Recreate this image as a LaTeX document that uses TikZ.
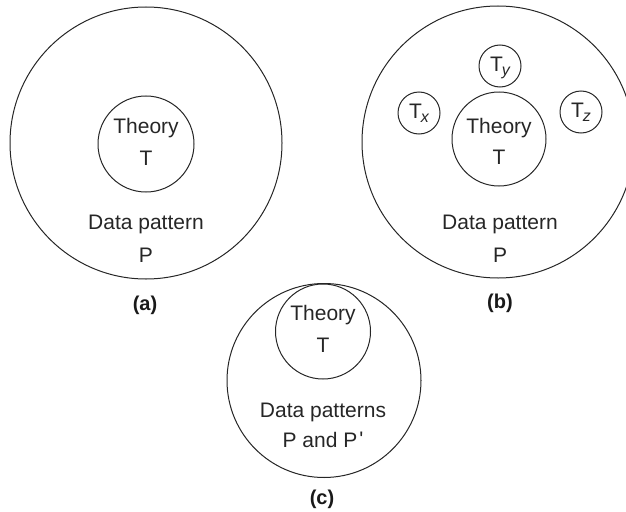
\documentclass[tikz,border=0pt]{standalone}
\usepackage{fontspec}
\setmainfont{Liberation Sans}
\newfontfamily\plainsans{Liberation Sans}
\newcommand{\mysub}[1]{\raisebox{-4pt}{\fontsize{16}{18}\selectfont\itshape #1}}
\begin{document}
\tikzset{
  ring/.style={circle, draw=black!85, line width=1pt, inner sep=0pt},
  lbl/.style={font=\fontsize{21}{25}\selectfont, text=black!85, inner sep=0pt, anchor=base},
  panelcap/.style={font=\fontsize{20}{24}\selectfont\bfseries, text=black!90, inner sep=0pt, anchor=base},
}
\begin{tikzpicture}[x=1pt,y=-1pt]
\useasboundingbox (0,0) rectangle (626,511);
% (a)
\node[ring, minimum size=272pt] (A) at (146,143) {};
\node[ring, minimum size=96pt] (AT) at (146,144) {};
\node[lbl] (Ath) at (146,133) {Theory};
\node[lbl] (At) at (146,165) {T};
\node[lbl] (Ad) at (146,229) {Data pattern};
\node[lbl] (Ap) at (146,262) {P};
\node[panelcap] (Acap) at (145,310) {(a)};
% (b)
\node[ring, minimum size=272pt] (B) at (498,142) {};
\node[ring, minimum size=94pt] (BT) at (499,139) {};
\node[ring, minimum size=42pt] (Bx) at (419,113) {};
\node[ring, minimum size=42pt] (By) at (500,66) {};
\node[ring, minimum size=42pt] (Bz) at (581,112) {};
\node[lbl] (Bxl) at (419,118) {T\kern-1pt\mysub{x}};
\node[lbl] (Byl) at (500,71) {T\kern-1pt\mysub{y}};
\node[lbl] (Bzl) at (581,117) {T\kern-1pt\mysub{z}};
\node[lbl] (Bth) at (499,133) {Theory};
\node[lbl] (Bt) at (499,164) {T};
\node[lbl] (Bd) at (500,229) {Data pattern};
\node[lbl] (Bp) at (500,262) {P};
\node[panelcap] (Bcap) at (500,308) {(b)};
% (c)
\node[ring, minimum size=194pt] (C) at (324,380.5) {};
\node[ring, minimum size=95pt] (CT) at (323,331.5) {};
\node[lbl] (Cth) at (323,320) {Theory};
\node[lbl] (Ct) at (323,352) {T};
\node[lbl] (Cd) at (323,417) {Data patterns};
\node[lbl] (Cp) at (323,447) {P and P\kern2pt{\plainsans\raisebox{1pt}{'}}};
\node[panelcap] (Ccap) at (322,504) {(c)};
\end{tikzpicture}
\end{document}
